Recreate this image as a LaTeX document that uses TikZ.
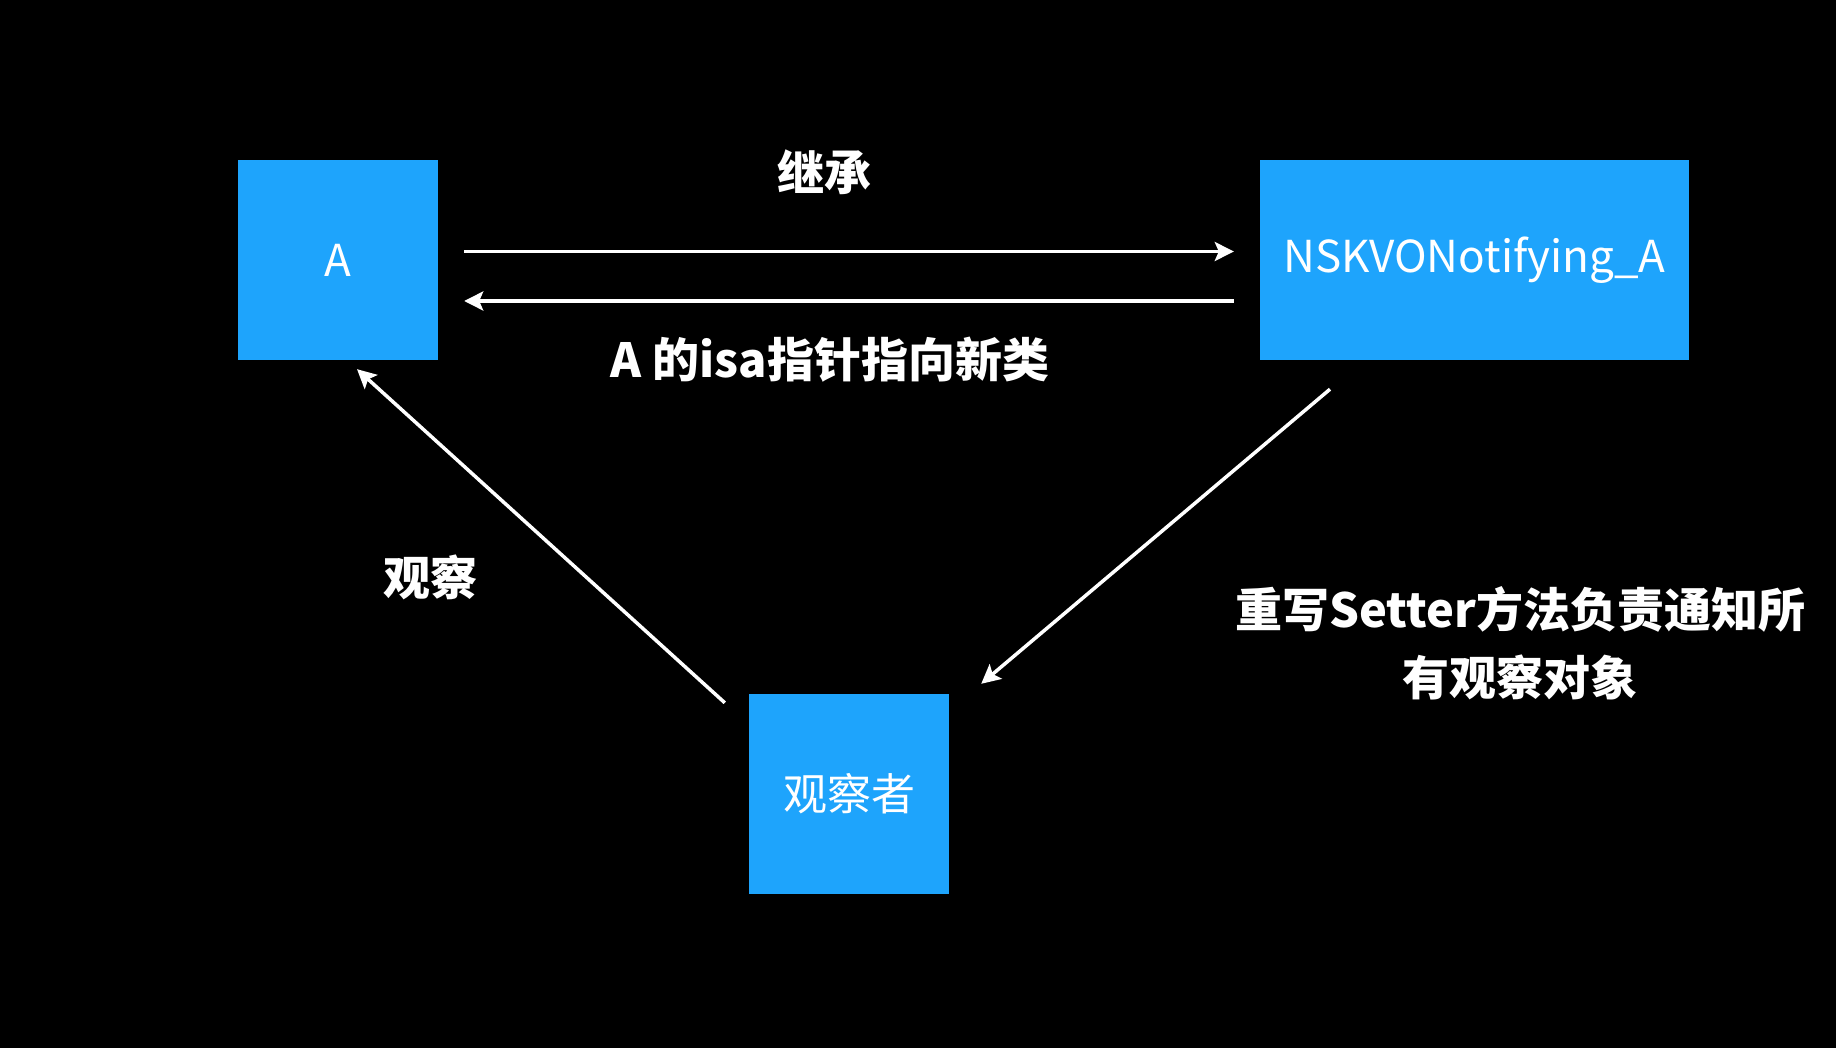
\documentclass[tikz,border=0pt]{standalone}
\usepackage{fontspec}
\setmainfont{Noto Sans CJK SC}
\usetikzlibrary{arrows.meta}
\definecolor{boxblue}{RGB}{30,164,252}
\tikzset{
  box/.style={fill=boxblue, draw=none, inner sep=0pt, text=white, font=\fontsize{44}{52}\selectfont},
  lbl/.style={text=white, inner sep=0pt, align=center, font=\fontsize{47}{68}\selectfont\bfseries},
  arr/.style={draw=white, line width=3.5pt, -{Stealth[length=19pt,width=19pt,inset=4pt]}}
}
\begin{document}
\begin{tikzpicture}[x=1pt,y=-1pt]
\fill[black] (0,0) rectangle (1836,1048);
\useasboundingbox (0,0) rectangle (1836,1048);
\node[box, minimum width=200pt, minimum height=200pt] (A) at (338,260) {A};
\node[box, minimum width=429pt, minimum height=200pt] (B) at (1474.5,260) {NSKVONotifying\_A};
\node[box, minimum width=200pt, minimum height=200pt] (O) at (849,794) {观察者};
\draw[arr, shorten <=26pt, shorten >=26pt] ([yshift=8.5pt]A.east) -- ([yshift=8.5pt]B.west);
\draw[arr, shorten <=26pt, shorten >=26pt] ([yshift=-41pt]B.west) -- ([yshift=-41pt]A.east);
\draw[arr] ([xshift=-24pt,yshift=-9pt]O.north west) -- ([xshift=19pt,yshift=-9pt]A.south);
\draw[arr] ([xshift=-144.5pt,yshift=-29pt]B.south) -- ([xshift=32pt,yshift=10pt]O.north east);
\node[lbl] (l1) at (824,172) {继承};
\node[lbl] (l2) at (830,360) {A 的isa指针指向新类};
\node[lbl] (l3) at (430,577) {观察};
\node[lbl] (l4) at (1520,643) {重写Setter方法负责通知所\\有观察对象};
\end{tikzpicture}
\end{document}
